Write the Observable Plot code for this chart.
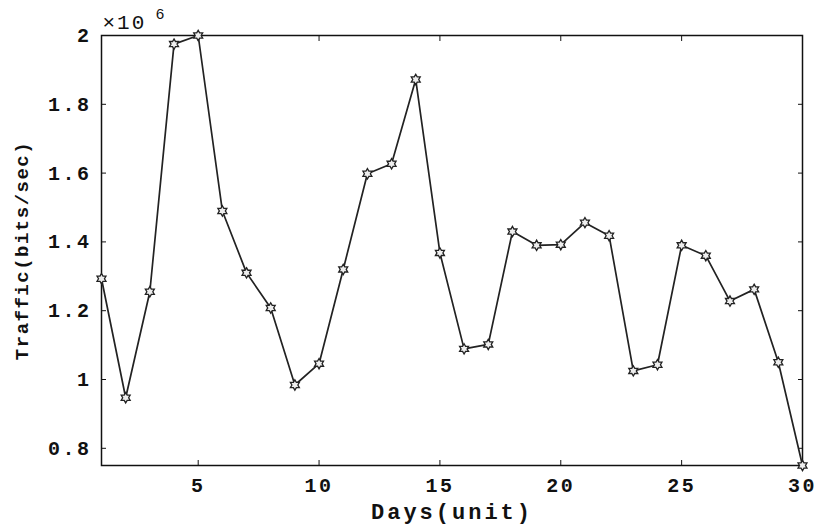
<!DOCTYPE html>
<html>
<head>
<meta charset="utf-8">
<script src="https://cdn.jsdelivr.net/npm/d3@7"></script>
<script src="https://cdn.jsdelivr.net/npm/@observablehq/plot@0.6"></script>
<style>
  html, body { margin: 0; padding: 0; background: #fff; }
  #chart svg { display: block; }
  #chart g[aria-label="x-axis tick label"] text,
  #chart g[aria-label="y-axis tick label"] text { letter-spacing: 2.5px; }
</style>
</head>
<body>
<div id="chart"></div>
<script>
// Data (traffic in units of 10^6 bits/sec)
const days = [1,2,3,4,5,6,7,8,9,10,11,12,13,14,15,16,17,18,19,20,21,22,23,24,25,26,27,28,29,30];
const traffic = [1.293,0.947,1.255,1.975,2.0,1.49,1.31,1.208,0.984,1.046,1.32,1.598,1.627,1.872,1.368,1.089,1.102,1.43,1.39,1.392,1.456,1.418,1.025,1.043,1.39,1.36,1.228,1.262,1.05,0.75];
const xTicks = [5,10,15,20,25,30];
const yTicks = [0.8,1.0,1.2,1.4,1.6,1.8,2.0];
const yTickLabels = ["0.8","1","1.2","1.4","1.6","1.8","2"];
const xLabel = "Days(unit)";
const yLabel = "Traffic(bits/sec)";
const exponentBase = "\u00d710";
const exponent = "6";

const data = days.map((d, i) => ({day: d, value: traffic[i]}));

// Hexagram (six-pointed star) outline symbol
const hexagram = {
  draw(context, size) {
    const R = Math.sqrt(size / Math.PI) * 1.15;
    const r = R / Math.sqrt(3);
    for (let i = 0; i < 12; i++) {
      const a = -Math.PI / 2 + i * Math.PI / 6;
      const rad = i % 2 === 0 ? R : r;
      const x = rad * Math.cos(a), y = rad * Math.sin(a);
      if (i === 0) context.moveTo(x, y); else context.lineTo(x, y);
    }
    context.closePath();
  }
};

const font = "'Liberation Mono', 'DejaVu Sans Mono', monospace";
const tickFmt = d => yTickLabels[yTicks.findIndex(t => Math.abs(t - d) < 1e-9)];

const chart = Plot.plot({
  width: 817,
  height: 526,
  marginLeft: 101,
  marginRight: 15,
  marginTop: 35,
  marginBottom: 61,
  style: {fontFamily: font, fontSize: "20px", fontWeight: "bold", color: "#111", background: "#fff"},
  x: {domain: [1, 30]},
  y: {domain: [0.75, 2]},
  marks: [
    Plot.frame({stroke: "#111", strokeWidth: 1.5}),
    Plot.axisX({ticks: xTicks, tickSize: -5, tickPadding: 17, label: null, stroke: "#111", fill: "#111"}),
    Plot.axisX({anchor: "top", ticks: xTicks, tickSize: -5, tickFormat: () => "", label: null, stroke: "#111"}),
    Plot.axisY({ticks: yTicks, tickSize: -5, tickPadding: 15, tickFormat: tickFmt, label: null, stroke: "#111", fill: "#111"}),
    Plot.axisY({anchor: "right", ticks: yTicks, tickSize: -5, tickFormat: () => "", label: null, stroke: "#111"}),
    Plot.line(data, {x: "day", y: "value", stroke: "#222", strokeWidth: 1.7}),
    Plot.dot(data, {x: "day", y: "value", symbol: hexagram, r: 4.5, stroke: "#222", strokeWidth: 1.3, fill: "#eee"}),
    Plot.text([xLabel], {frameAnchor: "bottom", textAnchor: "middle", lineAnchor: "middle", dy: 46, fontSize: 22, fill: "#111"}),
    Plot.text([yLabel], {frameAnchor: "left", textAnchor: "middle", lineAnchor: "middle", dx: -80, rotate: -90, fontSize: 19, fill: "#111"}),
    Plot.text([exponentBase], {frameAnchor: "top-left", textAnchor: "start", lineAnchor: "middle", dx: 1, dy: -13, fontSize: 21, fontWeight: "normal", fill: "#111"}),
    Plot.text([exponent], {frameAnchor: "top-left", textAnchor: "start", lineAnchor: "middle", dx: 54, dy: -21.5, fontSize: 15, fontWeight: "normal", fill: "#111"})
  ]
});
document.getElementById("chart").appendChild(chart);

// Letter spacing for the wide monospace labels
const spacing = new Map([[xLabel, "3px"], [yLabel, "1.5px"], [exponentBase, "2px"]]);
d3.select(chart).selectAll("text").each(function() {
  const s = spacing.get(this.textContent);
  if (s) this.style.letterSpacing = s;
});
</script>
</body>
</html>
